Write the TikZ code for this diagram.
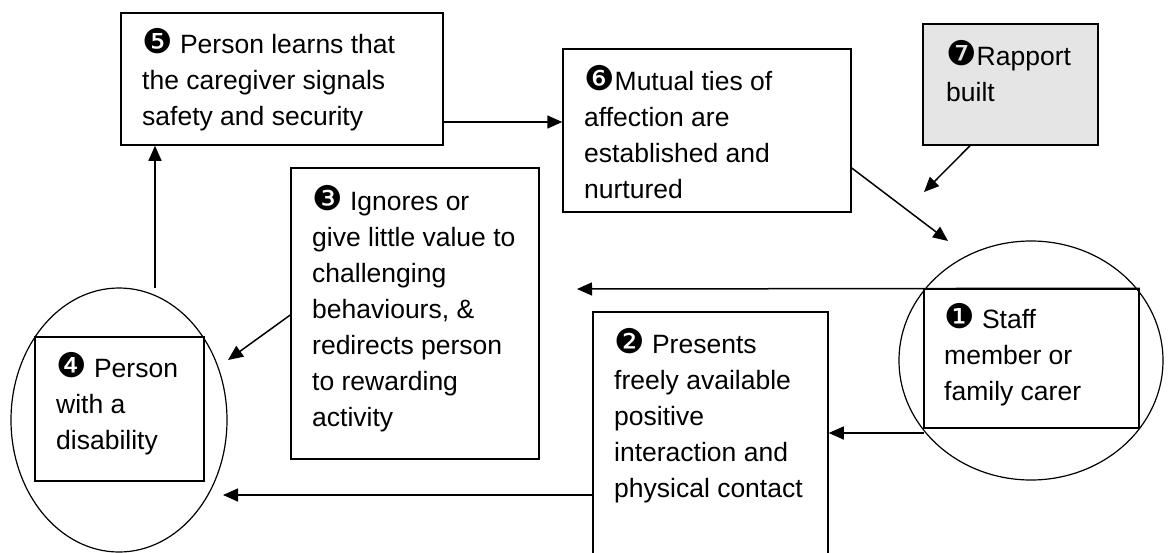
\documentclass[tikz,border=0pt]{standalone}
\usepackage{fontspec}
\setmainfont{Liberation Sans}
\newfontfamily\dingfont{DejaVu Sans}
\usetikzlibrary{arrows.meta,shapes.geometric}
% negative circled step numbers
\newcommand{\cnum}[1]{{\dingfont\fontsize{34}{34}\selectfont #1}}

\tikzset{
  box/.style={draw, rectangle, line width=1.5pt, inner sep=0pt},
  ring/.style={draw, ellipse, line width=1.2pt, inner sep=0pt},
  txt/.style={anchor=north west, align=left, inner sep=0pt,
              font=\fontsize{26.5}{36}\selectfont},
  arr/.style={line width=1.5pt, -{Triangle[length=15pt,width=13pt]}},
}
% strut fixing the first baseline 24pt below the text block top
\newcommand{\firstline}{\rule{0pt}{24pt}}

\begin{document}
\begin{tikzpicture}[x=1pt,y=-1pt]
\useasboundingbox (0,0) rectangle (1168,552);
\clip (0,0) rectangle (1168,552);

% circles around the two actors
\node[ring, minimum width=264pt, minimum height=239pt] (c1) at (1031,360.5) {};
\node[ring, minimum width=216pt, minimum height=264pt] (e4) at (119,420) {};

% boxes
\node[box, minimum width=322pt, minimum height=132pt] (b5) at (282,79) {};
\node[box, minimum width=288pt, minimum height=163pt] (b6) at (707,130.5) {};
\node[box, fill=black!10, minimum width=175pt, minimum height=121pt] (b7) at (1010.5,84.5) {};
\node[box, minimum width=248pt, minimum height=291pt] (b3) at (415,313.5) {};
\node[box, minimum width=169pt, minimum height=144pt] (b4) at (119.5,409) {};
\node[box, minimum width=215pt, minimum height=139pt] (b1) at (1031.5,358.5) {};
\node[box, minimum width=235pt, minimum height=253pt] (b2) at (710.5,438.5) {};

% texts
\node[txt] (t5) at (142,28) {\firstline\cnum{❺} Person learns that\\the caregiver signals\\safety and security};
\node[txt] (t6) at (584,65) {\firstline\cnum{❻}Mutual ties of\\affection are\\established and\\nurtured};
\node[txt] (t7) at (946,40) {\firstline\cnum{❼}Rapport\\built};
\node[txt] (t3) at (312,185) {\firstline\cnum{❸} Ignores or\\give little value to\\challenging\\behaviours, \&\\redirects person\\to rewarding\\activity};
\node[txt] (t4) at (56,352) {\firstline\cnum{❹} Person\\with a\\disability};
\node[txt] (t1) at (944,303) {\firstline\cnum{❶} Staff\\member or\\family carer};
\node[txt] (t2) at (614,328) {\firstline\cnum{❷} Presents\\freely available\\positive\\interaction and\\physical contact};

% free arrow ends
\coordinate (p61) at (948,241);
\coordinate (p7)  at (924,192);
\coordinate (p13) at (577,289);
\coordinate (p34) at (228,360);
\coordinate (p24) at (223,495);
\coordinate (s45) at (155,288);
\coordinate (s12) at (924,433);

% connectors
\draw[arr] ([yshift=-43pt]b5.east) -- ([yshift=8.5pt]b6.west);
\draw[arr] ([yshift=-37.5pt]b6.east) -- (p61);
\draw[arr] ([xshift=-40.5pt]b7.south) -- (p7);
\draw[arr] (b1.north east) -- (p13);
\draw[arr] (s12) -- (s12 -| b2.east);
\draw[arr] ([yshift=-1.5pt]b3.west) -- (p34);
\draw[arr] ([yshift=-56.5pt]b2.west) -- (p24);
\draw[arr] (s45) -- (s45 |- b5.south);
\end{tikzpicture}
\end{document}
